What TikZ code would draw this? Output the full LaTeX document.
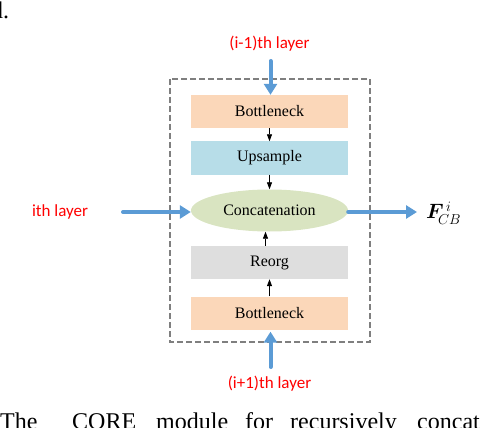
\documentclass[tikz,border=0pt]{standalone}
\usepackage{fontspec}
\usepackage{amsmath,bm}
\setmainfont{Liberation Serif}
\newfontfamily\labelfont{Carlito}
\usetikzlibrary{arrows.meta,shapes.geometric}
\definecolor{peach}{HTML}{FBD7B9}
\definecolor{lblue}{HTML}{B7DDE8}
\definecolor{lgreen}{HTML}{D9E4C1}
\definecolor{lgray}{HTML}{DEDEDE}
\definecolor{arrblue}{HTML}{5B9BD5}
\definecolor{dgray}{HTML}{7F7F7F}
\tikzset{
  blk/.style={minimum width=157pt,minimum height=33pt,inner sep=0pt,font=\fontsize{16}{18}\selectfont},
  bigarrow/.style={draw=arrblue,line width=4pt,line cap=round,-{Triangle[width=13pt,length=11pt,line cap=butt]}},
  smallarrow/.style={draw=black,line width=0.8pt,-{Triangle[width=5pt,length=7pt]}},
  redlabel/.style={text=red,font=\labelfont\fontsize{17}{19}\selectfont,inner sep=0pt},
  capword/.style={anchor=base west,inner sep=0pt,font=\fontsize{24}{28}\selectfont}
}
\begin{document}
\begin{tikzpicture}[x=1pt,y=-1pt]
\useasboundingbox (0,0) rectangle (480,428);
\clip (0,0) rectangle (480,428);
% dashed frame
\draw[dgray,line width=1.8pt,dash pattern=on 6pt off 3pt] (170,79) rectangle (370,342);
% blocks
\node[blk,fill=peach] (b1) at (269.5,111.5) {Bottleneck};
\node[blk,fill=lblue] (up) at (269.5,158) {Upsample};
\node[ellipse,fill=lgreen,minimum width=157pt,minimum height=42pt,inner sep=0pt,font=\fontsize{16}{18}\selectfont] (cat) at (269.5,210.5) {Concatenation};
\node[blk,fill=lgray] (ro) at (269.5,262.5) {Reorg};
\node[blk,fill=peach] (b2) at (269.5,313) {Bottleneck};
% small arrows
\draw[smallarrow] (b1.south) -- (up.north);
\draw[smallarrow] (up.south) -- (cat.north);
\draw[smallarrow] ([xshift=-4pt]ro.north) -- ([xshift=-4pt]cat.south);
\draw[smallarrow] (b2.north) -- (ro.south);
% labels
\node[redlabel] (lt) at (269.5,44) {(i-1)th layer};
\node[redlabel] (lb) at (269.5,384) {(i+1)th layer};
\node[redlabel] (ll) at (60,212) {ith layer};
\node[inner sep=0pt,anchor=west,font=\fontsize{21}{24}\selectfont] (out) at (426,213) {$\bm{F}_{\!CB}^{\,i}$};
% big arrows
\coordinate (tstart) at (270.5,61);
\coordinate (bstart) at (270.5,367);
\coordinate (lstart) at (123,212);
\coordinate (rend) at (417,212);
\draw[bigarrow] (tstart) -- (b1.north -| tstart);
\draw[bigarrow] (bstart) -- ([yshift=-2pt]b2.south -| bstart);
\draw[bigarrow] (lstart) -- (cat.west |- lstart);
\draw[bigarrow] (cat.east |- rend) -- (rend);
% cropped surrounding text
\node[capword] (dd) at (-9,18.5) {d.};
\node[capword] (w1) at (0,429.5) {The};
\node[capword] (w2) at (72,429.5) {CORE};
\node[capword] (w3) at (156,429.5) {module};
\node[capword] (w4) at (245,429.5) {for};
\node[capword] (w5) at (290,429.5) {recursively};
\node[capword] (w6) at (417,429.5) {concat};
\end{tikzpicture}
\end{document}
